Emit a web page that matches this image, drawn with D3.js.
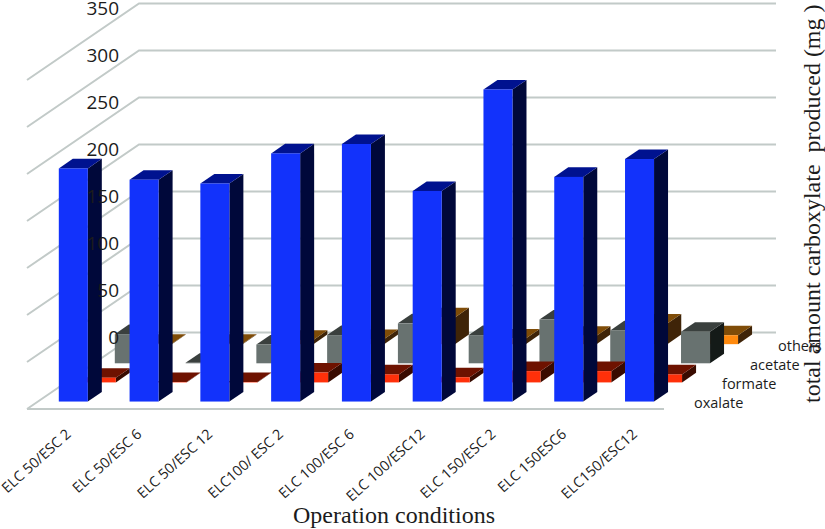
<!DOCTYPE html>
<html><head><meta charset="utf-8">
<script src="https://cdnjs.cloudflare.com/ajax/libs/d3/7.8.5/d3.min.js"></script>
<style>html,body{margin:0;padding:0;background:#fff}svg{display:block}</style>
</head><body><svg id="c" width="825" height="529"></svg>
<script>
const categories = ["ELC 50/ESC 2","ELC 50/ESC 6","ELC 50/ESC 12","ELC100/ ESC 2","ELC 100/ESC 6","ELC 100/ESC12","ELC 150/ESC 2","ELC 150ESC6","ELC150/ESC12"];
const seriesNames = ["oxalate","formate","acetate","others"];
const oxalate = [248,236,232,264,274,224,332,239,258];
const formate = [5,0.5,0.5,10.5,8.5,5.5,12,12,8.5];
const acetate = [31,0.5,20,30,42.5,30,46.5,35,33.5];
const others = [0.5,0.5,4.5,5.5,28.5,6,9,22,9.5];
const yTicks = [0,50,100,150,200,250,300,350];
const seriesValues = [oxalate,formate,acetate,others];
const palette = [
  {front:"#1232fb",top:"#00128f",side:"#00083a"},
  {front:"#ff300a",top:"#6e1200",side:"#390b00"},
  {front:"#687270",top:"#3a403e",side:"#141a18"},
  {front:"#ff8a0e",top:"#7f4c08",side:"#3f2408"}
];
const gridColor = "#c2cac8";
const sans = "'Open Sans',sans-serif", serif = "'Liberation Serif',serif";

const svg = d3.select("#c");
const x = d3.scaleBand().domain(categories).range([27,664]).paddingInner(0.59).paddingOuter(0.295);
const y = d3.scaleLinear().domain([0,350]).range([409,80]);
const dx = d3.scaleLinear().domain([0,4]).range([0,112]);
const dy = d3.scaleLinear().domain([0,4]).range([0,-76.5]);
const slab = 0.5, inset = 0.39;

// walls and grid
const g = svg.append("g").attr("fill","none").attr("stroke",gridColor).attr("stroke-width",2);
yTicks.forEach(t=>{
  const p = d3.path();
  p.moveTo(x.range()[0],y(t));
  p.lineTo(x.range()[0]+dx(4),y(t)+dy(4));
  p.lineTo(x.range()[1]+dx(4),y(t)+dy(4));
  g.append("path").attr("d",p.toString());
});
g.append("line").attr("x1",x.range()[0]).attr("x2",x.range()[1]).attr("y1",y(0)).attr("y2",y(0));

// bars, back to front
d3.range(seriesNames.length-1,-1,-1).forEach(si=>{
  const col = palette[si];
  const gs = svg.append("g").attr("class",seriesNames[si]);
  categories.forEach((c,i)=>{
    const v = seriesValues[si][i];
    const ox = dx(si+inset), oy = dy(si+inset);
    const bw = x.bandwidth();
    const L = x(c)+ox, R = L+bw, B = y(0)+oy, T = y(v)+oy;
    const ddx = dx(slab), ddy = dy(slab);
    const poly = pts => pts.map(q=>q.join(",")).join(" ");
    gs.append("polygon").attr("fill",col.side).attr("points",poly([[R,T],[R+ddx,T+ddy],[R+ddx,B+ddy],[R,B]]));
    gs.append("polygon").attr("fill",col.top).attr("points",poly([[L,T],[L+ddx,T+ddy],[R+ddx,T+ddy],[R,T]]));
    gs.append("rect").attr("x",L).attr("y",T).attr("width",bw).attr("height",B-T).attr("fill",col.front);
  });
});

// y tick labels
svg.append("g").selectAll("text").data(yTicks).join("text")
  .attr("x",119).attr("y",t=>y(t)+dy(4)+11)
  .attr("text-anchor","end").attr("font-family",sans).attr("font-size",19).attr("fill","#1c1c1c")
  .text(d=>d);

// category labels
svg.append("g").selectAll("text").data(categories).join("text")
  .attr("transform",c=>`translate(${x(c)+x.bandwidth()/2+9.5},435.5) rotate(-42)`)
  .attr("text-anchor","end").attr("font-family",sans).attr("font-size",14.4).attr("fill","#1c1c1c")
  .text(d=>d);

// depth labels
svg.append("g").selectAll("text").data(seriesNames).join("text")
  .attr("x",(d,i)=>694+dx(i)).attr("y",(d,i)=>408+dy(i))
  .attr("font-family",sans).attr("font-size",14.5).attr("fill","#1c1c1c")
  .text(d=>d);

// axis titles
svg.append("text").attr("x",394).attr("y",523).attr("text-anchor","middle")
  .attr("font-family",serif).attr("font-size",24).attr("fill","#1c1c1c").text("Operation conditions");
svg.append("text").attr("transform","translate(820,403) rotate(-90)")
  .style("white-space","pre")
  .attr("font-family",serif).attr("font-size",24).attr("fill","#1c1c1c").text("total amount carboxylate  produced (mg )");
</script></body></html>
